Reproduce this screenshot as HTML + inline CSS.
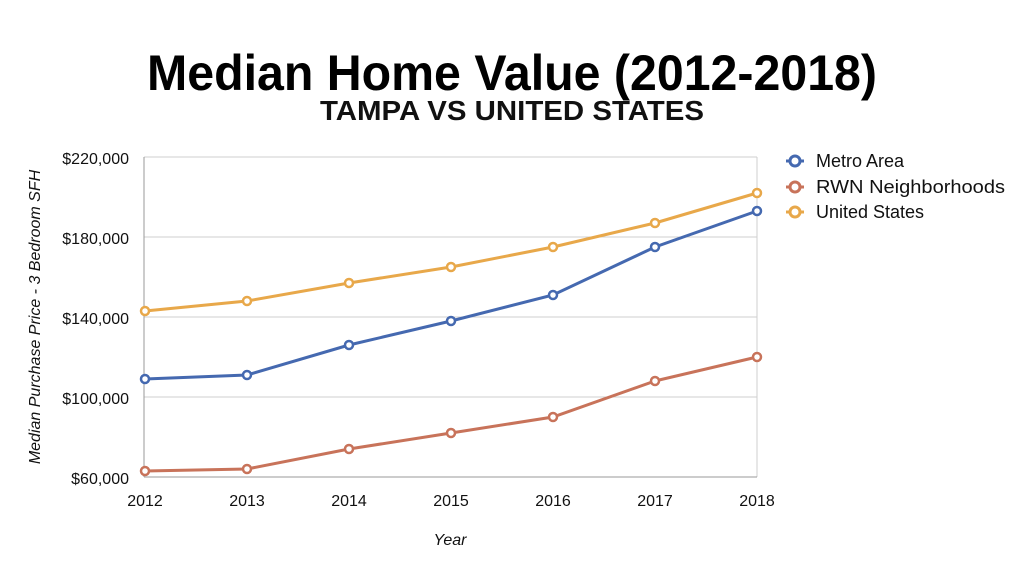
<!DOCTYPE html>
<html><head><meta charset="utf-8"><style>
html,body{margin:0;padding:0;background:#fff;width:1024px;height:576px;overflow:hidden}
svg{display:block}
</style></head><body>
<svg width="1024" height="576" viewBox="0 0 1024 576" font-family="Liberation Sans, sans-serif">
<text x="512" y="90" text-anchor="middle" font-size="50" font-weight="bold" fill="#000" textLength="730" lengthAdjust="spacingAndGlyphs">Median Home Value (2012-2018)</text>
<text x="512" y="120" text-anchor="middle" font-size="28" font-weight="bold" fill="#111" textLength="384" lengthAdjust="spacingAndGlyphs">TAMPA VS UNITED STATES</text>
<g stroke="#cfcfcf" stroke-width="1">
<line x1="144" y1="157" x2="757" y2="157"/>
<line x1="144" y1="237" x2="757" y2="237"/>
<line x1="144" y1="317" x2="757" y2="317"/>
<line x1="144" y1="397" x2="757" y2="397"/>
<line x1="757" y1="157" x2="757" y2="477"/>
</g>
<g stroke="#999" stroke-width="1">
<line x1="144" y1="157" x2="144" y2="477"/>
<line x1="144" y1="477" x2="757" y2="477"/>
</g>
<g font-size="16" fill="#111" text-anchor="end">
<text x="129" y="164">$220,000</text>
<text x="129" y="244">$180,000</text>
<text x="129" y="324">$140,000</text>
<text x="129" y="404">$100,000</text>
<text x="129" y="484">$60,000</text>
</g>
<g font-size="16" fill="#111" text-anchor="middle">
<text x="145" y="506">2012</text><text x="247" y="506">2013</text><text x="349" y="506">2014</text>
<text x="451" y="506">2015</text><text x="553" y="506">2016</text><text x="655" y="506">2017</text><text x="757" y="506">2018</text>
</g>
<text x="450" y="545" text-anchor="middle" font-size="16" font-style="italic" fill="#111">Year</text>
<text transform="translate(40,317) rotate(-90)" text-anchor="middle" font-size="16" font-style="italic" fill="#111">Median Purchase Price - 3 Bedroom SFH</text>
<g fill="#fff" stroke-width="3">
<polyline stroke="#e8a84a" fill="none" points="145,311 247,301 349,283 451,267 553,247 655,223 757,193"/>
<polyline stroke="#4569b0" fill="none" points="145,379 247,375 349,345 451,321 553,295 655,247 757,211"/>
<polyline stroke="#c8735a" fill="none" points="145,471 247,469 349,449 451,433 553,417 655,381 757,357"/>
<g stroke="#e8a84a" stroke-width="2.5"><circle cx="145" cy="311" r="4"/><circle cx="247" cy="301" r="4"/><circle cx="349" cy="283" r="4"/><circle cx="451" cy="267" r="4"/><circle cx="553" cy="247" r="4"/><circle cx="655" cy="223" r="4"/><circle cx="757" cy="193" r="4"/></g>
<g stroke="#4569b0" stroke-width="2.5"><circle cx="145" cy="379" r="4"/><circle cx="247" cy="375" r="4"/><circle cx="349" cy="345" r="4"/><circle cx="451" cy="321" r="4"/><circle cx="553" cy="295" r="4"/><circle cx="655" cy="247" r="4"/><circle cx="757" cy="211" r="4"/></g>
<g stroke="#c8735a" stroke-width="2.5"><circle cx="145" cy="471" r="4"/><circle cx="247" cy="469" r="4"/><circle cx="349" cy="449" r="4"/><circle cx="451" cy="433" r="4"/><circle cx="553" cy="417" r="4"/><circle cx="655" cy="381" r="4"/><circle cx="757" cy="357" r="4"/></g>
<g stroke-width="3">
<line x1="786" y1="161" x2="804" y2="161" stroke="#4569b0"/><circle cx="795" cy="161" r="5" stroke="#4569b0"/>
<line x1="786" y1="187" x2="804" y2="187" stroke="#c8735a"/><circle cx="795" cy="187" r="5" stroke="#c8735a"/>
<line x1="786" y1="212" x2="804" y2="212" stroke="#e8a84a"/><circle cx="795" cy="212" r="5" stroke="#e8a84a"/>
</g>
</g>
<g font-size="18" fill="#111">
<text x="816" y="167">Metro Area</text>
<text x="816" y="193" textLength="189" lengthAdjust="spacingAndGlyphs">RWN Neighborhoods</text>
<text x="816" y="218">United States</text>
</g>
</svg>
</body></html>
